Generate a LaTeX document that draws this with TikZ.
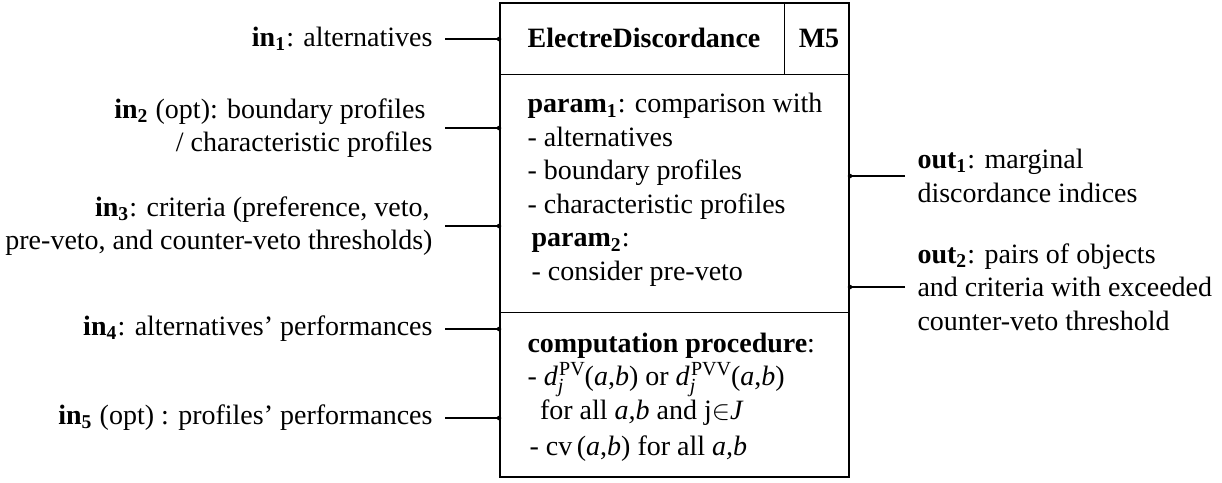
\documentclass[tikz,border=0pt]{standalone}
\usepackage{fontspec}
\setmainfont{Liberation Serif}
\usetikzlibrary{positioning}
\newcommand{\dmarg}[1]{\textit{d}\rlap{\raisebox{-0.5ex}{\footnotesize\textit{j}}}\hspace{0.5pt}\raisebox{0.8ex}{\footnotesize #1}(\textit{a},\textit{b})}

\begin{document}
\begin{tikzpicture}[x=0.4pt, y=-0.4pt,
  txt/.style={font=\fontsize{11.2}{13.4}\selectfont, inner sep=0pt},
  inlab/.style={txt, anchor=east, align=right, inner xsep=4.8pt},
  outlab/.style={txt, anchor=west, align=left, inner xsep=4.8pt},
  wire/.style={line width=0.8pt},
  sep/.style={line width=0.4pt},
  dot/.style={circle, fill, inner sep=0pt, minimum size=1.8pt}]
  \useasboundingbox (0,0) rectangle (1222,482);
  % module box (x = 500..849, y = 3..477), dividers at y = 74 and y = 312
  \node[draw, line width=0.8pt, minimum width=139.6pt, minimum height=189.6pt, inner sep=0pt] (box) at (674.5,240) {};
  \coordinate (hd) at (0,74);
  \coordinate (md) at (0,312);
  \coordinate (vd) at (784,0);
  \draw[sep] (box.west |- hd) -- (box.east |- hd);
  \draw[sep] (box.west |- md) -- (box.east |- md);
  \draw[sep] (vd |- box.north) -- (vd |- hd);
  \node[txt, font=\fontsize{11.2}{13.4}\selectfont\bfseries] (name) at (644,38) {ElectreDiscordance};
  \node[txt, font=\fontsize{11.2}{13.4}\selectfont\bfseries] (id) at (819,38) {M5};
  \node[txt, anchor=west, align=left] (param) at (527,190) {\textbf{param\textsubscript{1}}: comparison with\\- alternatives\\- boundary profiles\\- characteristic profiles\\\hspace*{1.6pt}\textbf{param\textsubscript{2}}:\\\hspace*{1.6pt}- consider pre-veto};
  \node[txt, anchor=west, align=left] (proc) at (527,397) {\textbf{computation procedure}:\\- \dmarg{PV} or \dmarg{PVV}\\\hspace*{5pt}for all \textit{a,b} and j$\in$\textit{J}\\[1pt]\hspace*{0.8pt}- cv\,(\textit{a},\textit{b}) for all \textit{a,b}};
  % inputs on the left
  \node[inlab] (in1) at (445,39)  {\textbf{in\textsubscript{1}}: alternatives};
  \node[inlab] (in2) at (445,128) {\textbf{in\textsubscript{2}} (opt): boundary profiles\hspace*{2.8pt}\\/ characteristic profiles};
  \node[inlab] (in3) at (445,226) {\textbf{in\textsubscript{3}}: criteria (preference, veto,\hspace*{1.2pt}\\pre-veto, and counter-veto thresholds)};
  \node[inlab] (in4) at (445,329) {\textbf{in\textsubscript{4}}: alternatives’ performances};
  \node[inlab] (in5) at (445,418) {\textbf{in\textsubscript{5}} (opt) : profiles’ performances};
  \foreach \i in {1,...,5}
    \draw[wire] (in\i.east) -- (in\i.east -| box.west) node[dot] {};
  % outputs on the right
  \node[outlab] (out1) at (905,176) {\textbf{out\textsubscript{1}}: marginal\\discordance indices};
  \node[outlab] (out2) at (905,287) {\textbf{out\textsubscript{2}}: pairs of objects\\and criteria with exceeded\\counter-veto threshold};
  \foreach \o in {1,2}
    \draw[wire] (out\o.west) -- (out\o.west -| box.east) node[dot] {};
\end{tikzpicture}
\end{document}
